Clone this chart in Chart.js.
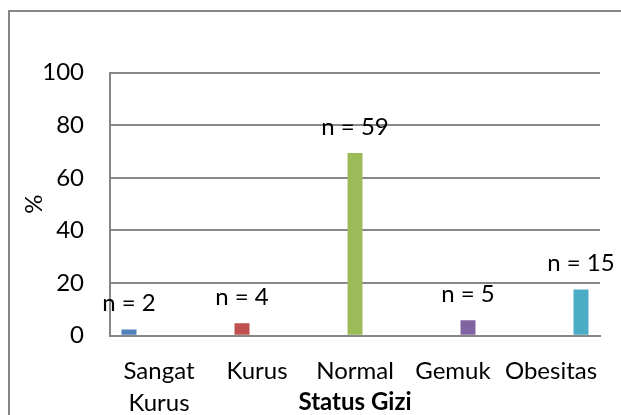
<!DOCTYPE html>
<html>
<head>
<meta charset="utf-8">
<script src="https://cdn.jsdelivr.net/npm/chart.js@4.4.1/dist/chart.umd.min.js"></script>
<style>
  html, body { margin: 0; padding: 0; background: #ffffff; overflow: hidden; }
  #wrap { position: relative; width: 621px; height: 415px; }
  #frame { position: absolute; left: 8px; top: 10px; width: 700px; height: 500px;
           border: 2px solid #868686; box-sizing: border-box; }
  canvas { position: absolute; left: 0; top: 0; }
</style>
</head>
<body>
<div id="wrap">
  <div id="frame"></div>
  <canvas id="chart" width="621" height="415"></canvas>
</div>
<script>
// Nutritional status categories (two-line label for the first one)
const categories = [["Sangat", "Kurus"], "Kurus", "Normal", "Gemuk", "Obesitas"];
// Share of respondents in each category, percent
const percentValues = [2.4, 4.7, 69.4, 5.9, 17.6];
// Number of respondents per category
const counts = [2, 4, 59, 5, 15];
const seriesColors = ["#4F81BD", "#C0504D", "#9BBB59", "#8064A2", "#4BACC6"];
const yTicks = [0, 20, 40, 60, 80, 100];

const FONT = "Lato, 'DejaVu Sans', sans-serif";
const GRID = "#878787";

// One dataset per category so each bar keeps its own slot in the group
const datasets = categories.map((c, i) => ({
  label: Array.isArray(c) ? c.join(" ") : c,
  data: categories.map((_, j) => (j === i ? percentValues[i] : null)),
  backgroundColor: seriesColors[i],
  borderWidth: 0,
  categoryPercentage: 0.765,
  barPercentage: 1.0
}));

// "n = ..." labels above each bar
const countLabels = {
  id: "countLabels",
  afterDatasetsDraw(chart) {
    const ctx = chart.ctx;
    ctx.save();
    ctx.font = "24px " + FONT;
    ctx.fillStyle = "#000000";
    ctx.textAlign = "center";
    ctx.textBaseline = "middle";
    chart.data.datasets.forEach((ds, i) => {
      const meta = chart.getDatasetMeta(i);
      const bar = meta.data[i];
      if (!bar) return;
      ctx.fillText("n = " + counts[i], bar.x, bar.y - 26);
    });
    ctx.restore();
  }
};

new Chart(document.getElementById("chart"), {
  type: "bar",
  data: { labels: categories, datasets },
  plugins: [countLabels],
  options: {
    responsive: false,
    animation: false,
    layout: { padding: { left: 10, right: 21, top: 72.5, bottom: 0 } },
    plugins: { legend: { display: false }, tooltip: { enabled: false } },
    scales: {
      x: {
        grid: { display: false, drawTicks: false },
        border: { display: true, color: GRID, width: 2 },
        ticks: {
          color: "#000000",
          padding: 20,
          maxRotation: 0,
          autoSkip: false,
          font: { family: FONT, size: 24, lineHeight: 1.32 }
        },
        title: {
          display: true,
          text: "Status Gizi",
          color: "#000000",
          padding: { top: 0, bottom: 0 },
          font: { family: FONT, size: 24, weight: "bold", lineHeight: 1.1 }
        },
        afterFit(scale) { scale.height = 79.3; }
      },
      y: {
        min: 0,
        max: 100,
        afterBuildTicks(scale) { scale.ticks = yTicks.map(v => ({ value: v })); },
        grid: { color: GRID, lineWidth: 2, drawTicks: false },
        border: { display: true, color: GRID, width: 2 },
        ticks: {
          color: "#000000",
          padding: 26,
          font: { family: FONT, size: 24 }
        },
        title: {
          display: true,
          text: "%",
          color: "#000000",
          padding: { top: 10, bottom: 0 },
          font: { family: FONT, size: 24, lineHeight: 1.2 }
        },
        afterFit(scale) { scale.width = 100; }
      }
    }
  }
});
</script>
</body>
</html>
